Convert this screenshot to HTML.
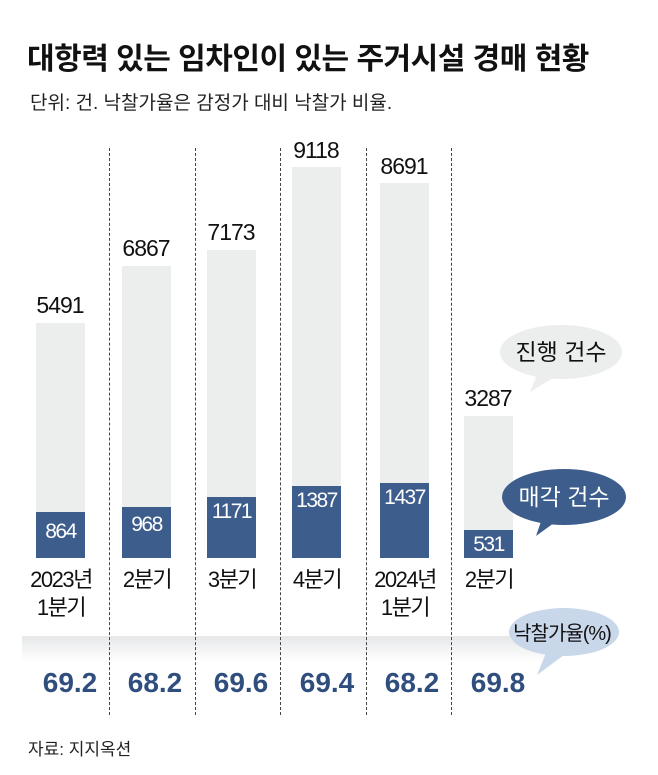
<!DOCTYPE html>
<html><head><meta charset="utf-8"><style>
body{margin:0;background:#fff;width:658px;height:775px;overflow:hidden;position:relative;font-family:"Liberation Sans","Noto Sans CJK KR",sans-serif}
.a{position:absolute}
.g{position:absolute;background:#eceeed;width:49px}
.b{position:absolute;background:#3d5e8d;width:49px;color:#fff;font-size:21px;text-align:center;letter-spacing:-1.5px}
.n{position:absolute;width:80px;text-align:center;font-size:23px;letter-spacing:-1px;color:#111}
.c{position:absolute;width:90px;text-align:center;font-size:22px;line-height:28px;color:#111;letter-spacing:-1.5px}
.p{position:absolute;width:80px;text-align:center;font-size:28px;font-weight:bold;color:#2f4e7e;top:667px}
.d{position:absolute;top:148px;height:567px;border-left:1.5px dashed #444;width:0}
</style></head><body>
<div class="a" style="left:27px;top:34px;font-size:30px;font-weight:bold;color:#111;letter-spacing:-0.5px">대항력 있는 임차인이 있는 주거시설 경매 현황</div>
<div class="a" style="left:30px;top:88px;font-size:19px;color:#222;letter-spacing:0px">단위: 건. 낙찰가율은 감정가 대비 낙찰가 비율.</div>
<div class="a" style="left:22px;top:636px;width:530px;height:26px;background:linear-gradient(#e6e7e8,#fff)"></div>
<div class="d" style="left:109px"></div><div class="d" style="left:195px"></div><div class="d" style="left:280px"></div><div class="d" style="left:366px"></div><div class="d" style="left:451px"></div>

<div class="g" style="left:36px;top:323px;height:235px"></div><div class="b" style="left:36px;top:512px;height:46px;line-height:40px">864</div>
<div class="g" style="left:122px;top:266px;height:292px"></div><div class="b" style="left:122px;top:507px;height:51px;line-height:35px">968</div>
<div class="g" style="left:207px;top:250px;height:308px"></div><div class="b" style="left:207px;top:497px;height:61px;line-height:30px">1171</div>
<div class="g" style="left:292px;top:167px;height:391px"></div><div class="b" style="left:292px;top:486px;height:72px;line-height:30px">1387</div>
<div class="g" style="left:380px;top:183px;height:375px"></div><div class="b" style="left:380px;top:483px;height:75px;line-height:30px">1437</div>
<div class="g" style="left:464px;top:416px;height:142px"></div><div class="b" style="left:464px;top:530px;height:28px;line-height:30px">531</div>

<div class="n" style="left:20px;top:292px">5491</div>
<div class="n" style="left:106px;top:235px">6867</div>
<div class="n" style="left:191px;top:219px">7173</div>
<div class="n" style="left:276px;top:137px">9118</div>
<div class="n" style="left:364px;top:153px">8691</div>
<div class="n" style="left:448px;top:385px">3287</div>

<div class="c" style="left:16px;top:566px">2023년<br>1분기</div>
<div class="c" style="left:102px;top:566px">2분기</div>
<div class="c" style="left:187px;top:566px">3분기</div>
<div class="c" style="left:272px;top:566px">4분기</div>
<div class="c" style="left:360px;top:566px">2024년<br>1분기</div>
<div class="c" style="left:444px;top:566px">2분기</div>

<div class="p" style="left:30px">69.2</div><div class="p" style="left:115px">68.2</div><div class="p" style="left:201px">69.6</div><div class="p" style="left:287px">69.4</div><div class="p" style="left:372px">68.2</div><div class="p" style="left:458px">69.8</div>

<svg class="a" style="left:0;top:0" width="658" height="775">
<path d="M540 368 L530 392 L558 375 Z" fill="#eceeed"/><ellipse cx="561" cy="352" rx="61" ry="27" fill="#eceeed"/>
<path d="M545 510 L536 536 L565 515 Z" fill="#3d5e8d"/><ellipse cx="564" cy="497" rx="62" ry="28" fill="#3d5e8d"/>
<path d="M548 648 L537 675 L568 652 Z" fill="#c9d7ea"/><ellipse cx="564" cy="632" rx="55" ry="24" fill="#c9d7ea"/>
<text x="561" y="360" font-size="23" text-anchor="middle" fill="#111" font-family="Liberation Sans,Noto Sans CJK KR,sans-serif">진행 건수</text>
<text x="564" y="505" font-size="23" text-anchor="middle" fill="#fff" font-family="Liberation Sans,Noto Sans CJK KR,sans-serif">매각 건수</text>
<text x="562" y="640" font-size="20" text-anchor="middle" fill="#111" letter-spacing="-1" font-family="Liberation Sans,Noto Sans CJK KR,sans-serif">낙찰가율(%)</text>
</svg>
<div class="a" style="left:28px;top:735px;font-size:17px;color:#222">자료: 지지옥션</div>
</body></html>
